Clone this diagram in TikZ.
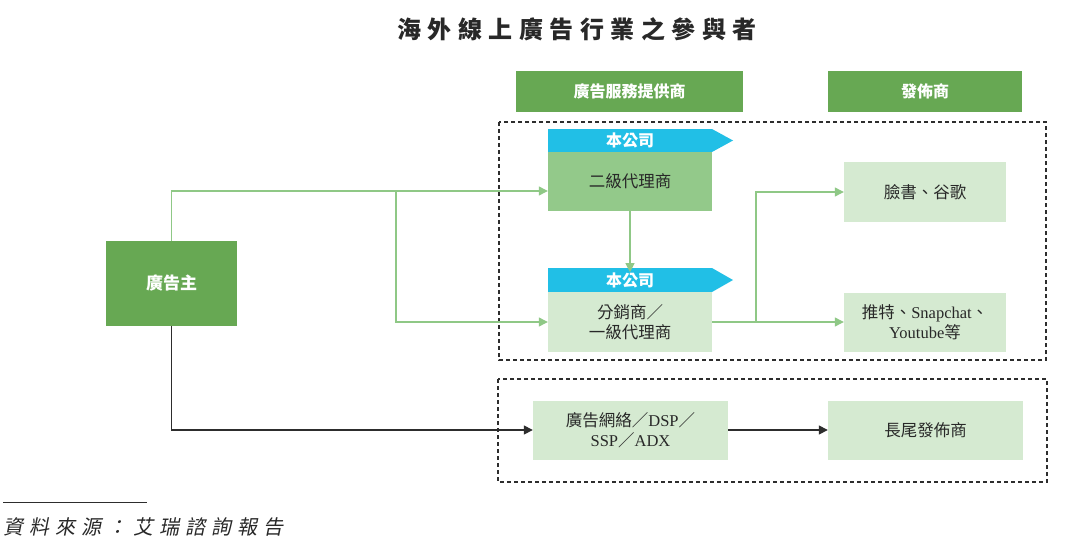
\documentclass[tikz,border=0pt]{standalone}
\usepackage{fontspec}
\setmainfont{Liberation Serif}
\newfontfamily\cjk{Noto Sans CJK TC}
\newfontfamily\cjkit[FakeSlant=0.2]{Noto Sans CJK TC}
\usetikzlibrary{arrows.meta}
\definecolor{hdrgreen}{RGB}{103,168,83}
\definecolor{midgreen}{RGB}{147,201,138}
\definecolor{lightgreen}{RGB}{213,234,209}
\definecolor{bannerblue}{RGB}{33,191,230}
\definecolor{lineg}{RGB}{143,200,134}
\definecolor{darkline}{RGB}{45,45,45}
\definecolor{txt}{RGB}{40,40,40}
\tikzset{
  hdr/.style={fill=hdrgreen, text=white, font=\cjk\bfseries\fontsize{16}{18}\selectfont, inner sep=0pt, minimum height=41pt},
  midbox/.style={fill=midgreen, text=txt, font=\cjk\fontsize{16.5}{20}\selectfont, inner sep=0pt, minimum width=164pt},
  litebox/.style={fill=lightgreen, text=txt, font=\cjk\fontsize{16.5}{20}\selectfont, inner sep=0pt, align=center},
  bantext/.style={text=white, font=\cjk\bfseries\fontsize{16}{18}\selectfont, inner sep=0pt},
  gline/.style={draw=lineg, line width=1.2pt, -{Triangle[length=9pt,width=9pt]}},
  dline/.style={draw=darkline, line width=1.5pt, -{Triangle[length=9pt,width=9pt]}},
  dbox/.style={draw=darkline, line width=1.3pt, dash pattern=on 4pt off 3pt},
}
\begin{document}
\begin{tikzpicture}[x=1pt,y=-1pt]
\useasboundingbox (0,0) rectangle (1080,552);
\fill[white] (0,0) rectangle (1080,552);

% title
\node[inner sep=0pt, text=txt, font=\cjk\bfseries\fontsize{24}{28}\selectfont] (title) at (577,29)
  {\addfontfeature{LetterSpace=27}海外線上廣告行業之參與者};

% headers
\node[hdr, minimum width=227pt] (hdr1) at (629.5,91.5) {廣告服務提供商};
\node[hdr, minimum width=194pt] (hdr2) at (925,91.5) {發佈商};

% dashed groups
\draw[dbox] (499,122) rectangle (1046,360);
\draw[dbox] (498,379) rectangle (1047,482);

% advertiser
\node[fill=hdrgreen, text=white, font=\cjk\bfseries\fontsize{17}{20}\selectfont, inner sep=0pt,
      minimum width=131pt, minimum height=85pt] (adv) at (171.5,283.5) {廣告主};

% agency boxes with banners
\fill[bannerblue] (548,129) -- (712,129) -- (733,140.5) -- (712,152) -- (548,152) -- cycle;
\node[bantext] (ban1) at (630,140.5) {本公司};
\node[midbox, minimum height=59pt] (b1) at (630,181.5) {二級代理商};

\fill[bannerblue] (548,268) -- (712,268) -- (733,280) -- (712,292) -- (548,292) -- cycle;
\node[bantext] (ban2) at (630,280) {本公司};
\node[litebox, minimum width=164pt, minimum height=60pt] (b2) at (630,322) {分銷商／\\一級代理商};

% publishers
\node[litebox, minimum width=162pt, minimum height=60pt] (p1) at (925,192) {臉書、谷歌};
\node[litebox, minimum width=162pt, minimum height=59pt] (p2) at (925,322.5)
  {推特、{\rmfamily Snapchat}、\\{\rmfamily Youtube}等};

% bottom row
\node[litebox, minimum width=195pt, minimum height=59pt] (net) at (630.5,430)
  {廣告網絡／{\rmfamily DSP}／\\{\rmfamily SSP}／{\rmfamily ADX}};
\node[litebox, minimum width=195pt, minimum height=59pt] (lt) at (925.5,430) {長尾發佈商};

% connectors
\coordinate (j1) at (396,191);
\draw[gline] (adv.north) |- (b1.west |- j1);
\draw[gline] (j1) |- (b2.west);
\draw[gline] (b1.south) -- (ban2.north -| b1.south);
\coordinate (j2) at (756,322);
\draw[gline] (b2.east) -- (b2.east -| p2.west);
\draw[gline] (j2) |- (p1.west);
\draw[dline] (adv.south) |- (net.west);
\draw[dline] (net.east) -- (lt.west);

% source
\coordinate (s1) at (3,502);
\coordinate (s2) at (147,502);
\draw[line width=1pt, draw=darkline] (s1) -- (s2);
\node[anchor=west, inner sep=0pt, text=txt, font=\cjkit\fontsize{20}{24}\selectfont] (src) at (3,527)
  {\addfontfeature{LetterSpace=30}資料來源：艾瑞諮詢報告};
\end{tikzpicture}
\end{document}
